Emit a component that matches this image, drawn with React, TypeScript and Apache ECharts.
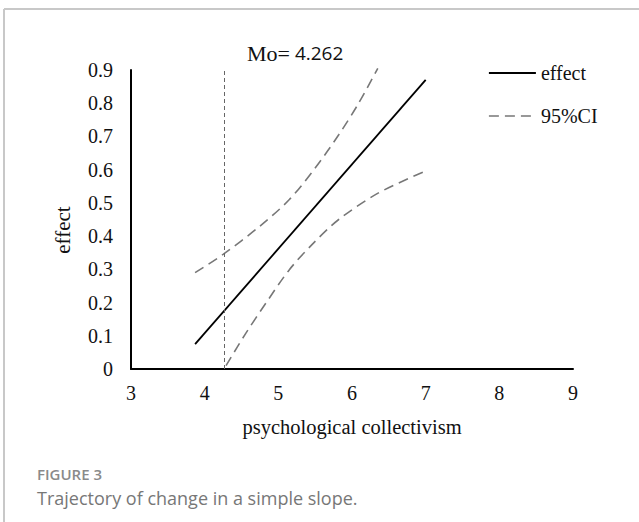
import React, { useEffect, useRef } from "react";
import * as echarts from "echarts";

const xTicks = [3, 4, 5, 6, 7, 8, 9];
const yTicks = [0, 0.1, 0.2, 0.3, 0.4, 0.5, 0.6, 0.7, 0.8, 0.9];

const effectX = [3.87, 7.0];
const effectY = [0.075, 0.87];

const upperX = [3.87, 4.25, 4.75, 5.15, 5.5, 5.82, 6.09, 6.35];
const upperY = [0.29, 0.345, 0.43, 0.51, 0.605, 0.705, 0.8, 0.905];

const lowerX = [4.29, 4.56, 4.83, 5.15, 5.46, 5.82, 6.36, 7.0];
const lowerY = [0.01, 0.108, 0.198, 0.299, 0.375, 0.45, 0.53, 0.596];

const moValue = 4.262;

const serif = "'Liberation Serif', 'Times New Roman', serif";
const sans = "'Open Sans', 'Noto Sans', sans-serif";

const zip = (xs: number[], ys: number[]) => xs.map((x, i) => [x, ys[i]]);

const ciDash = [10, 6];

export default function App() {
  const ref = useRef<HTMLDivElement>(null);
  useEffect(() => {
    if (!ref.current) return;
    const chart = echarts.init(ref.current, null, { renderer: "svg" });
    chart.setOption({
      animation: false,
      backgroundColor: "#fff",
      grid: { left: 131, right: 66, top: 70, bottom: 153 },
      xAxis: {
        type: "value",
        min: xTicks[0],
        max: xTicks[xTicks.length - 1],
        interval: 1,
        axisLine: { show: true, lineStyle: { color: "#000", width: 2 } },
        axisTick: { show: false },
        splitLine: { show: false },
        axisLabel: { color: "#111", fontFamily: serif, fontSize: 20, margin: 14 },
        name: "psychological collectivism",
        nameLocation: "middle",
        nameGap: 47,
        nameTextStyle: { color: "#111", fontFamily: serif, fontSize: 20.5 },
      },
      yAxis: {
        type: "value",
        min: yTicks[0],
        max: yTicks[yTicks.length - 1],
        interval: 0.1,
        axisLine: { show: true, onZero: false, lineStyle: { color: "#000", width: 2 } },
        axisTick: { show: false },
        splitLine: { show: false },
        axisLabel: {
          color: "#111",
          fontFamily: serif,
          fontSize: 20,
          margin: 18,
          formatter: (v: number) => (Math.abs(v) < 1e-9 ? "0" : v.toFixed(1)),
        },
      },
      legend: {
        orient: "vertical",
        left: 483,
        top: 58,
        itemWidth: 47,
        itemHeight: 14,
        itemGap: 23,
        data: [
          { name: "effect", lineStyle: { color: "#000", width: 1.8, type: "solid" } },
          { name: "95%CI", lineStyle: { color: "#777", width: 1.6, type: ciDash } },
        ],
        itemStyle: { opacity: 0 },
        textStyle: { color: "#111", fontFamily: serif, fontSize: 20, lineHeight: 20 },
      },
      series: [
        {
          name: "effect",
          type: "line",
          data: zip(effectX, effectY),
          symbol: "none",
          lineStyle: { color: "#000", width: 1.8 },
          itemStyle: { color: "#000" },
          markLine: {
            silent: true,
            symbol: "none",
            label: { show: false },
            lineStyle: { color: "#666", width: 1, type: [4, 3] },
            data: [[{ coord: [moValue, 0] }, { coord: [moValue, 0.9] }]],
          },
        },
        {
          name: "95%CI",
          type: "line",
          data: zip(upperX, upperY),
          symbol: "none",
          smooth: 0.3,
          clip: false,
          lineStyle: { color: "#777", width: 1.6, type: ciDash },
          itemStyle: { color: "#777" },
        },
        {
          name: "95%CI",
          type: "line",
          data: zip(lowerX, lowerY),
          symbol: "none",
          smooth: 0.3,
          lineStyle: { color: "#777", width: 1.6, type: ciDash },
          itemStyle: { color: "#777" },
        },
      ],
      graphic: [
        {
          type: "line",
          shape: { x1: 4, y1: 9, x2: 639, y2: 9 },
          style: { stroke: "#c8c8c8", lineWidth: 2 },
        },
        {
          type: "line",
          shape: { x1: 4, y1: 9, x2: 4, y2: 522 },
          style: { stroke: "#c8c8c8", lineWidth: 2 },
        },
        {
          type: "text",
          x: 247,
          y: 53,
          style: {
            text: "{a|Mo=}{b| " + moValue.toFixed(3) + "}",
            verticalAlign: "middle",
            rich: {
              a: { fontFamily: serif, fontSize: 22, fill: "#111" },
              b: { fontFamily: sans, fontSize: 19, fill: "#111" },
            },
          },
        },
        {
          type: "text",
          x: 63,
          y: 230,
          rotation: Math.PI / 2,
          style: {
            text: "effect",
            align: "center",
            verticalAlign: "middle",
            fontFamily: serif,
            fontSize: 21,
            fill: "#111",
          },
        },
        {
          type: "text",
          x: 37,
          y: 474,
          style: {
            text: "FIGURE 3",
            verticalAlign: "middle",
            fontFamily: sans,
            fontSize: 15,
            fontWeight: 600,
            fill: "#8a8a8a",
          },
        },
        {
          type: "text",
          x: 37,
          y: 498,
          style: {
            text: "Trajectory of change in a simple slope.",
            verticalAlign: "middle",
            fontFamily: sans,
            fontSize: 18,
            fill: "#777",
          },
        },
      ],
    });
    return () => chart.dispose();
  }, []);
  return (
    <div
      ref={ref}
      style={{ position: "absolute", left: 0, top: 0, width: 639, height: 522 }}
    />
  );
}
